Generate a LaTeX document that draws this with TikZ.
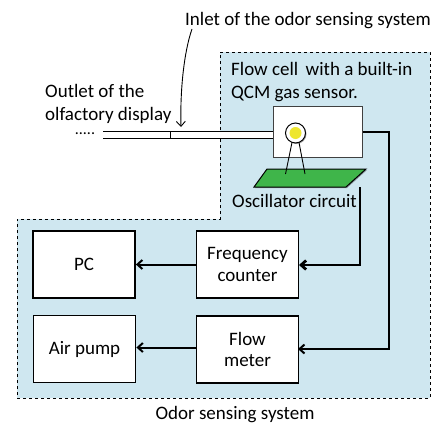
\documentclass[tikz,border=0pt]{standalone}
\usepackage{fontspec}
\setmainfont{Carlito}
\usetikzlibrary{arrows.meta, shadows}
\definecolor{sysblue}{HTML}{CFE7F0}
\definecolor{boardgreen}{HTML}{3FB54A}
\definecolor{sensoryellow}{HTML}{EEE62F}
\tikzset{>={Straight Barb[length=5pt, width=9pt]}}
\tikzset{
	unitbox/.style = {draw, line width = 1.8, fill = white, minimum width = 102, minimum height = 67, align = center, inner sep = 0},
	label/.style = {anchor = base west, inner sep = 0},
	wire/.style = {line width = 2},
	softshadow/.style = {drop shadow = {shadow xshift = 1pt, shadow yshift = -1pt, opacity = 0.35, fill = black}}
}

\begin{document}
\begin{tikzpicture}[x=1pt, y=-1pt, font=\fontsize{19}{21.5}\selectfont]
	\useasboundingbox (0,0) rectangle (438,423);
	\draw [dashed, fill = sysblue, line width = 0.8] (220,52) -- (430,52) -- (430,398) -- (17,398) -- (17,219) -- (220,219) -- cycle;

	% tube
	\fill [white] (103,131) rectangle (273,138);
	\foreach \y in {131,138}
	\draw [line width = 1] (103,\y) -- (273,\y);
	\draw [line width = 1] (170,131) -- (170,138);
	\node at (85,134) [label, anchor = base, font = \fontsize{16}{16}\selectfont] (dots) {.....};

	% flow cell
	\node at (317.5,131.5) [draw = black!75, line width = 1, fill = white, minimum width = 89, minimum height = 51, inner sep = 0] (cell) {};
	\coordinate (oscout) at (360,187);
	\draw [line width = 2.8, ->] (oscout) |- (359,265) -- (299,265);
	\draw [wire, ->] (cell.east) -- ++(26,0) |- (298,349);

	% oscillator board
	\filldraw [fill = boardgreen, line width = 1, softshadow] (267,169) -- (366,169) -- (346,187) -- (254,187) -- cycle;
	\node at (295.5,133) [circle, draw, fill = white, line width = 1, minimum size = 20, inner sep = 0, softshadow] (sensor) {};
	\node at (295.5,133) [circle, fill = sensoryellow, minimum size = 12, inner sep = 0] (quartz) {};
	\coordinate (legl) at (285.5,174);
	\coordinate (legr) at (305,174);
	\draw [line width = 0.9] (sensor.-110) -- (legl);
	\draw [line width = 0.9] (sensor.-70) -- (legr);

	% units
	\node at (84,264.5) [unitbox] (pc) {PC};
	\node at (247.5,264.5) [unitbox] (freq) {Frequency\\counter};
	\node at (84.5,349) [unitbox] (pump) {Air pump};
	\node at (247.5,349.5) [unitbox] (flow) {Flow\\meter};
	\draw [wire, ->] (freq.west) -- (pc.east);
	\draw [wire, ->] ([yshift=2pt]flow.west) -- ([yshift=2pt]flow.west -| pump.east);

	% labels
	\node at (185,25) [label] (inlet) {Inlet of the odor sensing system};
	\node at (45,97) [label] (outleta) {Outlet of the};
	\node at (45,120) [label] (outletb) {olfactory display};
	\node at (231,75) [label] (cella) {Flow cell\, with a built-in};
	\node at (231,98) [label] (cellb) {QCM gas sensor.};
	\node at (232,207) [label] (osc) {Oscillator circuit};
	\node at (235,419) [label, anchor = base] (system) {Odor sensing system};

	\coordinate (inletend) at (181,127);
	\draw [line width = 0.9, ->] (192,29) .. controls (184,52) and (180,90) .. (inletend);
\end{tikzpicture}
\end{document}
